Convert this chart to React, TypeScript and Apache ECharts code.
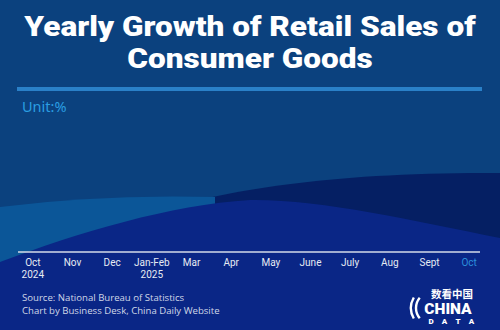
import React, { useEffect, useRef } from "react";
import * as echarts from "echarts";

// ---- data ----
const months: string[] = [
  "Oct\n2024", "Nov", "Dec", "Jan-Feb\n2025", "Mar", "Apr",
  "May", "June", "July", "Aug", "Sept", "Oct",
];
// Bars are at height 0 in the reference frame (nothing visible yet)
const growthValues: number[] = [0, 0, 0, 0, 0, 0, 0, 0, 0, 0, 0, 0];
const titleLines: string[] = ["Yearly Growth of Retail Sales of", "Consumer Goods"];
const unitText = "Unit:%";
const sourceLines: string[] = [
  "Source: National Bureau of Statistics",
  "Chart by Business Desk, China Daily Website",
];

// ---- decorative background shapes ----
echarts.graphic.registerShape(
  "waveNavy",
  echarts.graphic.extendPath("M150 260 L150 212 C230 190 330 172 500 173 L500 330 L150 330 Z", {})
);
echarts.graphic.registerShape(
  "waveLight",
  echarts.graphic.extendPath("M0 207 Q100 194 215 197 L215 330 L0 330 Z", {})
);
echarts.graphic.registerShape(
  "waveRoyal",
  echarts.graphic.extendPath(
    "M0 262 C80 232 170 205 250 200 C320 199 410 220 500 238 L500 330 L0 330 Z",
    {}
  )
);

export default function App() {
  const ref = useRef<HTMLDivElement>(null);

  useEffect(() => {
    if (!ref.current) return;
    const chart = echarts.init(ref.current, undefined, { renderer: "svg" });
    const option: any = {
      animation: false,
      backgroundColor: "#0b417e",
      grid: { left: 13, right: 11, top: 120, bottom: 78, containLabel: false },
      xAxis: {
        type: "category",
        data: months,
        axisLine: { show: false },
        axisTick: { show: false },
        splitLine: { show: false },
        axisLabel: {
          interval: 0,
          margin: 4,
          fontSize: 10,
          lineHeight: 12,
          fontFamily: "Roboto, sans-serif",
          color: (_v: any, i: number) => (i === months.length - 1 ? "#2b8fdc" : "#e6ebf3"),
        },
      },
      yAxis: { type: "value", show: false, min: 0, max: 8 },
      series: [
        {
          type: "bar",
          data: growthValues,
          barWidth: 22,
          itemStyle: { color: "#2b9be0" },
        },
      ],
      graphic: [
        { type: "waveNavy", x: 0, y: 0, z: -10, silent: true, style: { fill: "#051f63" } },
        { type: "waveLight", x: 0, y: 0, z: -9, silent: true, style: { fill: "#0b5698" } },
        { type: "waveRoyal", x: 0, y: 0, z: -8, silent: true, style: { fill: "#0a2686" } },
        {
          type: "text",
          x: 250,
          y: 43,
          z: 10,
          scaleX: 1.17,
          style: {
            text: titleLines.join("\n"),
            fill: "#ffffff",
            font: "900 27px Roboto, sans-serif",
            lineHeight: 32,
            align: "center",
            verticalAlign: "middle",
          },
        },
        {
          type: "rect",
          z: 10,
          shape: { x: 17, y: 87, width: 465, height: 4 },
          style: { fill: "#2a80c8" },
        },
        {
          type: "text",
          x: 22,
          y: 106,
          z: 10,
          style: {
            text: unitText,
            fill: "#2a9ee2",
            font: "14.5px 'Noto Sans', sans-serif",
            verticalAlign: "middle",
          },
        },
        {
          type: "line",
          z: 10,
          shape: { x1: 18, y1: 252, x2: 480, y2: 252 },
          style: { stroke: "#d4dbe9", lineWidth: 1.5 },
        },
        {
          type: "text",
          x: 22,
          y: 297,
          z: 10,
          style: {
            text: sourceLines[0],
            fill: "#d0d7e6",
            font: "9.6px 'Open Sans', sans-serif",
            verticalAlign: "middle",
          },
        },
        {
          type: "text",
          x: 22,
          y: 310,
          z: 10,
          style: {
            text: sourceLines[1],
            fill: "#d0d7e6",
            font: "9.6px 'Open Sans', sans-serif",
            verticalAlign: "middle",
          },
        },
        // logo
        {
          type: "text",
          x: 452,
          y: 293,
          z: 10,
          style: {
            text: "数看中国",
            fill: "#ffffff",
            font: "bold 10.5px 'Noto Sans CJK SC', sans-serif",
            align: "center",
            verticalAlign: "middle",
          },
        },
        {
          type: "text",
          x: 448,
          y: 308.5,
          z: 10,
          style: {
            text: "CHINA",
            fill: "#ffffff",
            font: "900 15.5px Roboto, sans-serif",
            align: "center",
            verticalAlign: "middle",
          },
        },
        ...["D", "A", "T", "A"].map((ch, i) => ({
          type: "text",
          x: 431 + i * 13.5,
          y: 321,
          z: 10,
          style: {
            text: ch,
            fill: "#ffffff",
            font: "900 8px Roboto, sans-serif",
            align: "center",
            verticalAlign: "middle",
          },
        })),
        {
          type: "arc",
          z: 10,
          shape: { cx: 432, cy: 308, r: 21, startAngle: (150 * Math.PI) / 180, endAngle: (210 * Math.PI) / 180 },
          style: { stroke: "#ffffff", lineWidth: 2.4, fill: "none" },
        },
        {
          type: "arc",
          z: 10,
          shape: { cx: 432, cy: 308, r: 16, startAngle: (140 * Math.PI) / 180, endAngle: (220 * Math.PI) / 180 },
          style: { stroke: "#ffffff", lineWidth: 2.4, fill: "none" },
        },
      ],
    };
    chart.setOption(option);
    return () => chart.dispose();
  }, []);

  return (
    <div
      ref={ref}
      style={{ position: "fixed", left: 0, top: 0, width: 500, height: 330 }}
    />
  );
}
